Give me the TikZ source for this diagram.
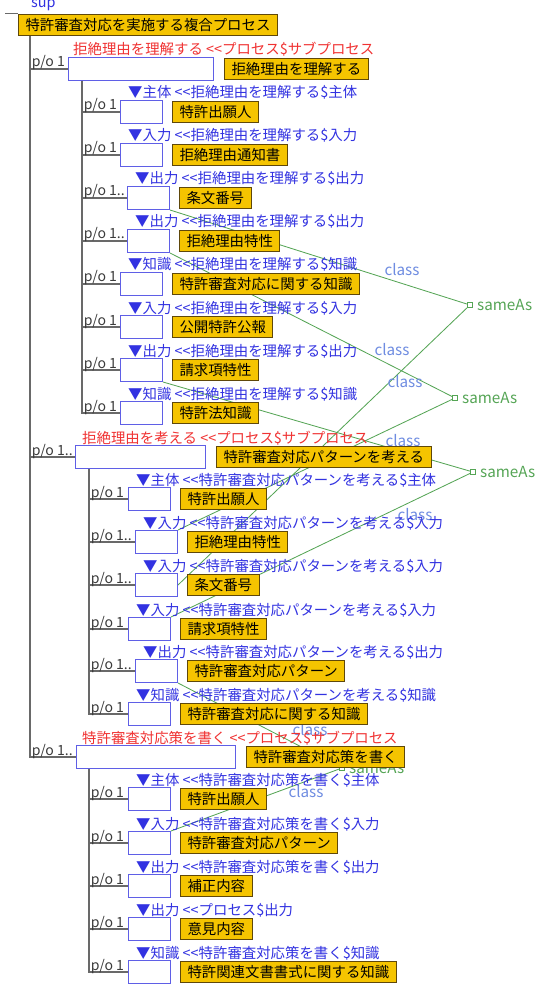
\documentclass[tikz,border=0pt]{standalone}
\usepackage{fontspec}
\setmainfont{Noto Sans CJK JP}
\usetikzlibrary{positioning}
\definecolor{yelfill}{RGB}{245,196,0}
\definecolor{yelline}{RGB}{95,72,10}
\definecolor{slotline}{RGB}{95,95,230}
\definecolor{roletext}{RGB}{50,50,225}
\definecolor{proctext}{RGB}{240,50,50}
\definecolor{linkgreen}{RGB}{85,165,85}
\definecolor{clsblue}{RGB}{110,140,225}
\definecolor{treeline}{RGB}{105,105,105}
\definecolor{potext}{RGB}{60,60,60}
\pgfdeclarelayer{bg}
\pgfsetlayers{bg,main}
\tikzset{
  yel/.style={draw=yelline, fill=yelfill, line width=0.3mm, inner xsep=2.1mm, inner ysep=0pt, minimum height=6.3mm},
  slot/.style={draw=slotline, fill=white, line width=0.3mm, minimum height=6.9mm, inner sep=0pt, anchor=north west},
  role/.style={text=roletext, inner sep=0pt, anchor=base west},
  proc/.style={text=proctext, inner sep=0pt, anchor=base west},
  po/.style={text=potext, inner sep=0pt, anchor=base west, xshift=0.3mm, yshift=0.6mm, font=\fontsize{12}{14}\selectfont},
  tree/.style={draw=treeline, line width=0.45mm},
  link/.style={draw=linkgreen, line width=0.25mm},
  cls/.style={text=clsblue, inner sep=0pt, font=\fontsize{13}{15}\selectfont},
  same/.style={draw=linkgreen, fill=white, line width=0.25mm, minimum size=1.5mm, inner sep=0pt,
    label={[text=linkgreen, inner sep=0pt, xshift=1.2mm, font=\fontsize{13}{15}\selectfont]right:sameAs}}
}
\newcommand{\dlt}{<\kern0pt<}

\begin{document}
\begin{tikzpicture}[x=0.3mm,y=-0.3mm,font=\fontsize{12.3}{14}\selectfont]
\useasboundingbox (0,0) rectangle (545,993);

% sameAs points first, the boxes lie over them
\node[same] (sa1) at (470,305) {};
\node[same] (sa2) at (455,398) {};
\node[same] (sa3) at (473,472) {};
\node[same] (sa4) at (342,768) {};

\node[yel,anchor=north west] (root) at (18,14) {特許審査対応を実施する複合プロセス};
\node[role] (sup) at (31,8) {sup};
\coordinate (supend) at (5,14);
\draw[tree,line width=0.3mm] (supend) -- (root.north west);
\coordinate (t0) at ([shift={(12,0)}]root.south west);

% 拒絶理由を理解する
\node[slot,minimum width=43.5mm] (s1) at (68,57) {};
\node[yel,right=3mm of s1] (s1y) {拒絶理由を理解する};
\node[proc] (s1p) at ([shift={(5,-2)}]s1.north west) {拒絶理由を理解する \dlt プロセス\$サブプロセス};
\draw[tree] (t0) |- (s1.west) node[po,pos=.5] {p/o 1};
\coordinate (v1) at ([shift={(14,0)}]s1.south west);
\foreach \n/\y/\dx/\rl/\tx in {1/100/0/主体/特許出願人, 2/143/0/入力/拒絶理由通知書,
  3/186/7/出力/条文番号, 4/229/7/出力/拒絶理由特性, 5/272/0/知識/特許審査対応に関する知識,
  6/315/0/入力/公開特許公報, 7/358/0/出力/請求項特性, 8/401/0/知識/特許法知識}{
  \node[slot,minimum width=12.6mm] (s1b\n) at (120+\dx,\y) {};
  \node[yel,right=2.7mm of s1b\n] (s1y\n) {\tx};
  \node[role] (s1l\n) at ([shift={(8,-2)}]s1b\n.north west) {▼\rl\ \dlt 拒絶理由を理解する\$\rl};
  \draw[tree] (v1) |- (s1b\n.west) node[po,pos=.5] {p/o 1\ifnum\dx>0 ..\fi};
}

% 特許審査対応パターンを考える
\node[slot,minimum width=39mm] (s2) at (75,445) {};
\node[yel,right=3mm of s2] (s2y) {特許審査対応パターンを考える};
\node[proc] (s2p) at ([shift={(7,-2)}]s2.north west) {拒絶理由を考える \dlt プロセス\$サブプロセス};
\draw[tree] (t0) |- (s2.west) node[po,pos=.5] {p/o 1..};
\coordinate (v2) at ([shift={(14,0)}]s2.south west);
\foreach \n/\y/\dx/\rl/\tx in {1/487/0/主体/特許出願人, 2/530/7/入力/拒絶理由特性,
  3/573/7/入力/条文番号, 4/617/0/入力/請求項特性, 5/659/7/出力/特許審査対応パターン,
  6/702/0/知識/特許審査対応に関する知識}{
  \node[slot,minimum width=12.6mm] (s2b\n) at (128+\dx,\y) {};
  \node[yel,right=2.7mm of s2b\n] (s2y\n) {\tx};
  \node[role] (s2l\n) at ([shift={(8,-2)}]s2b\n.north west) {▼\rl\ \dlt 特許審査対応パターンを考える\$\rl};
  \draw[tree] (v2) |- (s2b\n.west) node[po,pos=.5] {p/o 1\ifnum\dx>0 ..\fi};
}

% 特許審査対応策を書く
\node[slot,minimum width=47.7mm] (s3) at (76,745) {};
\node[yel,right=3mm of s3] (s3y) {特許審査対応策を書く};
\node[proc] (s3p) at ([shift={(6,-2)}]s3.north west) {特許審査対応策を書く \dlt プロセス\$サブプロセス};
\draw[tree] (t0) |- (s3.west) node[po,pos=.5] {p/o 1..};
\coordinate (v3) at ([shift={(13,0)}]s3.south west);
\foreach \n/\y/\rl/\pn/\tx in {1/787/主体/特許審査対応策を書く/特許出願人,
  2/831/入力/特許審査対応策を書く/特許審査対応パターン, 3/874/出力/特許審査対応策を書く/補正内容,
  4/917/出力/プロセス/意見内容, 5/960/知識/特許審査対応策を書く/特許関連文書書式に関する知識}{
  \node[slot,minimum width=12.6mm] (s3b\n) at (128,\y) {};
  \node[yel,right=2.7mm of s3b\n] (s3y\n) {\tx};
  \node[role] (s3l\n) at ([shift={(8,-2)}]s3b\n.north west) {▼\rl\ \dlt\pn\$\rl};
  \draw[tree] (v3) |- (s3b\n.west) node[po,pos=.5] {p/o 1};
}

\begin{pgfonlayer}{bg}
\fill[white] (0,0) rectangle (545,993);
\draw[link] (s1b3.south east) -- (sa1) -- (s2b3.east);
\draw[link] (s1b4.south east) -- (sa2) -- (s2b2.north east);
\draw[link] (s1b7.south east) -- (sa3) -- (s2b4.north east);
\draw[link] (s2b5.south east) -- (sa4) -- (s3b2.north east);
\node[cls] (c1) at (402,270) {class};
\node[cls] (c2) at (392,350) {class};
\node[cls] (c3) at (405,382) {class};
\node[cls] (c4) at (403,441) {class};
\node[cls] (c5) at (415,515) {class};
\node[cls] (c6) at (310,730) {class};
\node[cls] (c7) at (306,792) {class};
\end{pgfonlayer}
\end{tikzpicture}
\end{document}
